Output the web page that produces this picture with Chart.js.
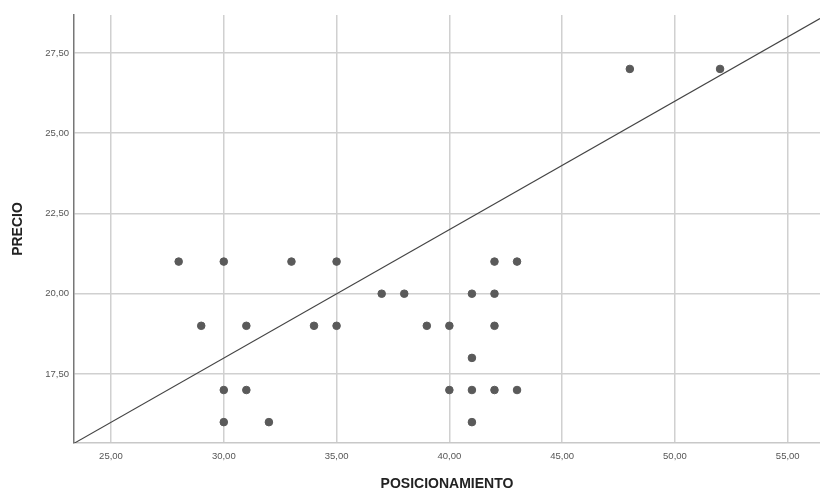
<html>
<head>
<meta charset="UTF-8">
<title>PRECIO vs POSICIONAMIENTO</title>
<script src="https://cdn.jsdelivr.net/npm/chart.js@4/dist/chart.umd.min.js"></script>
<style>
  body { margin: 0; background: #fff; }
  #wrap { width: 820px; height: 495px; }
</style>
</head>
<body>
<div id="wrap"><canvas id="chart1"></canvas></div>
<script>
// observed cases (POSICIONAMIENTO, PRECIO)
var posicionamiento = [28, 30, 33, 35, 42, 43,
                       37, 38, 41, 42,
                       29, 31, 34, 35, 39, 40, 42,
                       41,
                       30, 31, 40, 41, 42, 43,
                       30, 32, 41,
                       48, 52];
var precio = [21, 21, 21, 21, 21, 21,
              20, 20, 20, 20,
              19, 19, 19, 19, 19, 19, 19,
              18,
              17, 17, 17, 17, 17, 17,
              16, 16, 16,
              27, 27];
// reference line end points
var lineX = [23.36, 56.43];
var lineY = [15.34, 28.57];

var xTicks = [25, 30, 35, 40, 45, 50, 55];
var yTicks = [17.5, 20, 22.5, 25, 27.5];

var points = posicionamiento.map(function (v, i) { return { x: v, y: precio[i] }; });
var linePts = lineX.map(function (v, i) { return { x: v, y: lineY[i] }; });

function fmt(v) { return v.toFixed(2).replace('.', ','); }

var ctx1 = document.getElementById("chart1");
var chart1 = new Chart(ctx1, {
    type: 'scatter',
    data: {
        datasets: [
            {
                label: "casos",
                data: points,
                backgroundColor: "#5a5a5a",
                borderColor: "#5a5a5a",
                pointRadius: 3.8,
                order: 1
            },
            {
                type: 'line',
                label: "ajuste",
                data: linePts,
                borderColor: "#444",
                borderWidth: 1.2,
                pointRadius: 0,
                fill: false,
                order: 2
            }
        ]
    },
    options: {
        responsive: true,
        maintainAspectRatio: false,
        animation: false,
        layout: { autoPadding: false, padding: { top: 15, right: 0, bottom: 0, left: 0 } },
        plugins: { legend: { display: false }, tooltip: { enabled: false } },
        scales: {
            x: {
                type: 'linear',
                min: 23.36,
                max: 56.43,
                afterBuildTicks: function (s) { s.ticks = xTicks.map(function (v) { return { value: v }; }); },
                afterFit: function (s) { s.height = 52; },
                ticks: {
                    callback: function (v) { return fmt(v); },
                    font: { family: "Liberation Sans", size: 9.5 },
                    color: "#555",
                    padding: 8,
                    maxRotation: 0
                },
                grid: { color: "#d0d0d0", lineWidth: 1.5, drawTicks: false },
                border: { color: "#c8c8c8", width: 1.5 },
                title: {
                    display: true,
                    text: "POSICIONAMIENTO",
                    font: { family: "Liberation Sans", size: 14, weight: 'bold' },
                    color: "#222",
                    padding: { top: 0, bottom: 2 }
                }
            },
            y: {
                type: 'linear',
                min: 15.35,
                max: 28.68,
                afterBuildTicks: function (s) { s.ticks = yTicks.map(function (v) { return { value: v }; }); },
                afterFit: function (s) { s.width = 74; },
                ticks: {
                    callback: function (v) { return fmt(v); },
                    font: { family: "Liberation Sans", size: 9.5 },
                    color: "#555",
                    padding: 5
                },
                grid: { color: "#d0d0d0", lineWidth: 1.5, drawTicks: false },
                border: { color: "#777", width: 1.5 },
                title: {
                    display: true,
                    text: "PRECIO",
                    font: { family: "Liberation Sans", size: 14, weight: 'bold' },
                    color: "#222",
                    padding: { top: 10, bottom: 0 }
                }
            }
        }
    }
});
</script>
</body>
</html>
